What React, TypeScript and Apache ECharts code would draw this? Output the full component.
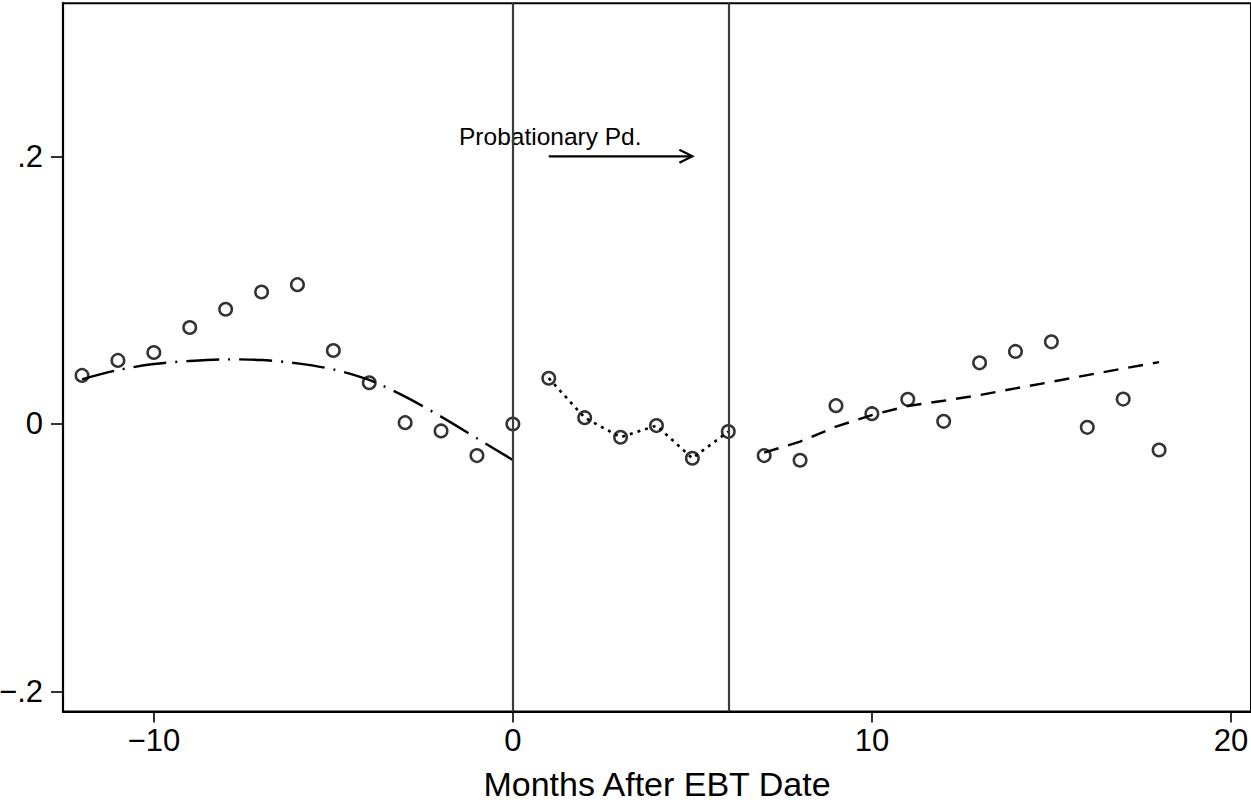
import React, { useEffect, useRef } from "react";
import * as echarts from "echarts";

// ---- data ----
const preMonths = [-12, -11, -10, -9, -8, -7, -6, -5, -4, -3, -2, -1, 0];
const preMeans = [0.0363, 0.0475, 0.0534, 0.0721, 0.0857, 0.0986, 0.1041, 0.0549, 0.0308, 0.0010, -0.0052, -0.0236, 0.0];
const preFit = [0.0334, 0.0403, 0.0448, 0.0471, 0.0483, 0.0478, 0.0453, 0.0408, 0.0329, 0.0204, 0.0055, -0.0107, -0.0269];

const midMonths = [1, 2, 3, 4, 5, 6];
const midMeans = [0.0342, 0.0047, -0.0099, -0.0012, -0.0256, -0.0057];

const postMonths = [7, 8, 9, 10, 11, 12, 13, 14, 15, 16, 17, 18];
const postMeans = [-0.0236, -0.0271, 0.0137, 0.0077, 0.0184, 0.0020, 0.0457, 0.0542, 0.0614, -0.0025, 0.0186, -0.0194];
const postFit = [-0.0214, -0.0132, -0.0020, 0.0067, 0.0134, 0.0174, 0.0216, 0.0266, 0.0315, 0.0365, 0.0415, 0.0462];

const xTickValues = [-10, 0, 10, 20];
const xTickLabels = ["\u221210", "0", "10", "20"];
const yTickValues = [-0.2, 0, 0.2];
const yTickLabels = ["\u2212.2", "0", ".2"];

const periodLines = [0, 6];
const arrowSegment = [1, 0.2, 5, 0.2];
const annotationPos = [-1.5, 0.215];
const annotationText = "Probationary Pd.";
const xTitle = "Months After EBT Date";

const FONT = "'Liberation Sans', Arial, Helvetica, sans-serif";

function labelFor(values: number[], labels: string[], v: number): string {
  const i = values.findIndex((t) => Math.abs(t - v) < 1e-6);
  return i >= 0 ? labels[i] : "";
}

export default function App() {
  const ref = useRef<HTMLDivElement>(null);

  useEffect(() => {
    if (!ref.current) return;
    const chart = echarts.init(ref.current, undefined, { renderer: "svg" });

    const allPoints = [
      ...preMonths.map((m, i) => [m, preMeans[i]]),
      ...midMonths.map((m, i) => [m, midMeans[i]]),
      ...postMonths.map((m, i) => [m, postMeans[i]]),
    ];

    const option: any = {
      animation: false,
      backgroundColor: "#fff",
      grid: {
        left: 63,
        right: 0,
        top: 3.3,
        bottom: 92.5,
        show: true,
        containLabel: false,
        outerBoundsMode: "none",
        borderColor: "#000",
        borderWidth: 2,
        backgroundColor: "transparent",
      },
      xAxis: {
        type: "value",
        min: -12.53,
        max: 20.56,
        name: xTitle,
        nameLocation: "middle",
        nameGap: 55,
        nameTextStyle: { fontSize: 34, fontFamily: FONT, color: "#000" },
        axisLine: { show: true, onZero: false, lineStyle: { color: "#000", width: 2.2 } },
        axisTick: {
          show: true,
          length: 11,
          customValues: xTickValues,
          lineStyle: { color: "#000", width: 1.6 },
        },
        axisLabel: {
          customValues: xTickValues,
          fontSize: 31,
          fontFamily: FONT,
          color: "#000",
          margin: 13,
          hideOverlap: false,
          formatter: (v: number) => labelFor(xTickValues, xTickLabels, v),
        },
        splitLine: { show: false },
      },
      yAxis: {
        type: "value",
        min: -0.2148,
        max: 0.3143,
        axisLine: { show: true, onZero: false, lineStyle: { color: "#000", width: 2.2 } },
        axisTick: {
          show: true,
          length: 12,
          customValues: yTickValues,
          lineStyle: { color: "#000", width: 1.6 },
        },
        axisLabel: {
          customValues: yTickValues,
          fontSize: 31,
          fontFamily: FONT,
          color: "#000",
          margin: 20,
          formatter: (v: number) => labelFor(yTickValues, yTickLabels, v),
        },
        splitLine: { show: false },
      },
      series: [
        {
          name: "preFit",
          type: "line",
          data: preMonths.map((m, i) => [m, preFit[i]]),
          symbol: "none",
          smooth: 0.3,
          lineStyle: { color: "#000", width: 2.4, type: [33, 9, 2, 9] },
          markLine: {
            silent: true,
            symbol: ["none", "none"],
            label: { show: false },
            lineStyle: { color: "#3c3c3c", width: 2.2, type: "solid" },
            data: periodLines.map((x) => ({ xAxis: x })),
          },
          z: 2,
        },
        {
          name: "midLine",
          type: "line",
          data: midMonths.map((m, i) => [m, midMeans[i]]),
          symbol: "none",
          lineStyle: { color: "#000", width: 2.6, type: [3, 5] },
          z: 2,
        },
        {
          name: "postFit",
          type: "line",
          data: postMonths.map((m, i) => [m, postFit[i]]),
          symbol: "none",
          lineStyle: { color: "#000", width: 2.4, type: [15, 10] },
          z: 2,
        },
        {
          name: "means",
          type: "scatter",
          data: allPoints,
          symbol: "circle",
          symbolSize: 12.5,
          itemStyle: { color: "rgba(0,0,0,0)", borderColor: "#000", borderWidth: 2.5 },
          z: 3,
        },
        {
          name: "arrow",
          type: "custom",
          data: [arrowSegment],
          encode: { x: [0, 2], y: [1, 3] },
          renderItem: (params: any, api: any) => {
            const p1 = api.coord([api.value(0), api.value(1)]);
            const p2 = api.coord([api.value(2), api.value(3)]);
            return {
              type: "group",
              children: [
                {
                  type: "line",
                  shape: { x1: p1[0], y1: p1[1], x2: p2[0], y2: p2[1] },
                  style: { stroke: "#000", lineWidth: 2.2 },
                },
                {
                  type: "polyline",
                  shape: {
                    points: [
                      [p2[0] - 13, p2[1] - 6.5],
                      [p2[0], p2[1]],
                      [p2[0] - 13, p2[1] + 6.5],
                    ],
                  },
                  style: { stroke: "#000", lineWidth: 2.2, fill: "none" },
                },
              ],
            };
          },
          z: 4,
        },
        {
          name: "annotation",
          type: "custom",
          data: [annotationPos],
          encode: { x: 0, y: 1 },
          renderItem: (params: any, api: any) => {
            const p = api.coord([api.value(0), api.value(1)]);
            return {
              type: "text",
              x: p[0],
              y: p[1],
              style: {
                text: annotationText,
                fontSize: 24.5,
                fontFamily: FONT,
                fill: "#000",
                align: "left",
                verticalAlign: "middle",
              },
            };
          },
          z: 4,
        },
      ],
    };

    chart.setOption(option);
    return () => {
      chart.dispose();
    };
  }, []);

  return (
    <div
      ref={ref}
      style={{ position: "fixed", left: 0, top: 0, width: 1251, height: 804, background: "#fff" }}
    />
  );
}
